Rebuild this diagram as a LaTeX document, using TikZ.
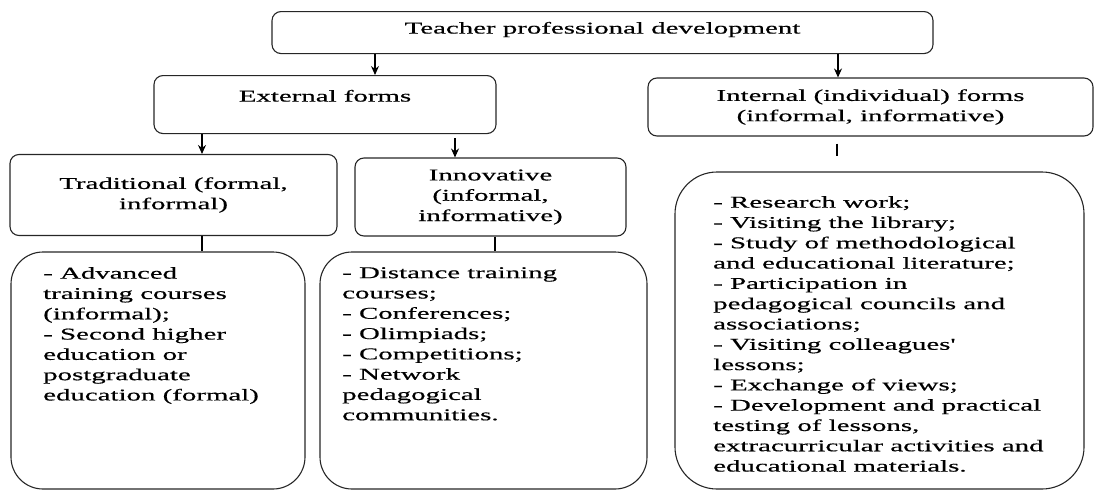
\documentclass[tikz,border=0pt]{standalone}
\usepackage{fontspec}
\setmainfont{Liberation Serif}[FakeStretch=1.75, FakeBold=0.5]
\usetikzlibrary{positioning, arrows.meta}

\begin{document}
\begin{tikzpicture}[x=1pt, y=-1pt, >={Stealth[length=9pt, width=8pt]},
    every node/.style={font=\fontsize{16.5}{20.3}\selectfont},
    box/.style={draw=black!85, line width=1.1pt, rounded corners=9pt, inner sep=0pt, align=center},
    listbox/.style={draw=black!85, line width=1.1pt, rounded corners=32pt, inner sep=0pt},
    listtext/.style={inner sep=0pt, align=left, anchor=north west},
    link/.style={draw=black, line width=1.1pt}]
    \useasboundingbox (0,0) rectangle (1097,490);

    % headings
    \node[box, anchor=north, minimum width=661pt, text height=22pt, text depth=20pt] (tpd) at (602.5,11) {Teacher professional development};
    \node[box, anchor=north, minimum width=342pt, text height=26pt, text depth=32pt] (ext) at (325,75) {External forms};
    \node[box, minimum width=445pt, minimum height=58pt] (int) at (870.5,107) {Internal (individual) forms\\(informal, informative)};
    \node[box, minimum width=327pt, minimum height=81pt] (trad) at (173.5,195) {Traditional (formal,\\informal)};
    \node[box, minimum width=271pt, minimum height=78pt] (inno) at (490.5,197) {Innovative\\(informal,\\informative)};

    % lists
    \node[listbox, minimum width=294pt, minimum height=237pt] (tradlist) at (158,370.5) {};
    \node[listbox, minimum width=327pt, minimum height=237pt] (innolist) at (483.5,370.5) {};
    \node[listbox, rounded corners=42pt, minimum width=409pt, minimum height=317pt] (intlist) at (879.5,330.5) {};

    \node[listtext] (tradtext) at (43,267) {- Advanced\\training courses\\(informal);\\- Second higher\\education or\\postgraduate\\education (formal)};
    \node[listtext] (innotext) at (342,267) {- Distance training\\courses;\\- Conferences;\\- Olimpiads;\\- Competitions;\\- Network\\pedagogical\\communities.};
    \node[listtext] (inttext) at (713,196) {- Research work;\\- Visiting the library;\\- Study of methodological\\and educational literature;\\- Participation in\\pedagogical councils and\\associations;\\- Visiting colleagues\textquotesingle\\lessons;\\- Exchange of views;\\- Development and practical\\testing of lessons,\\extracurricular activities and\\educational materials.};

    % connectors
    \path[link, ->] (375,0 |- tpd.south) -- (375,0 |- ext.north);
    \path[link, ->] (838,0 |- tpd.south) -- (838,0 |- int.north);
    \path[link, ->] (202,0 |- ext.south) -- (202,0 |- trad.north);
    \path[link, ->, shorten <=4pt] (455,0 |- ext.south) -- (455,0 |- inno.north);
    \path[link] (202,0 |- trad.south) -- (202,0 |- tradlist.north);
    \path[link] (495,0 |- inno.south) -- (495,0 |- innolist.north);
    \path[link, shorten <=7pt, shorten >=15pt] (837,0 |- int.south) -- (837,0 |- intlist.north);
\end{tikzpicture}
\end{document}
